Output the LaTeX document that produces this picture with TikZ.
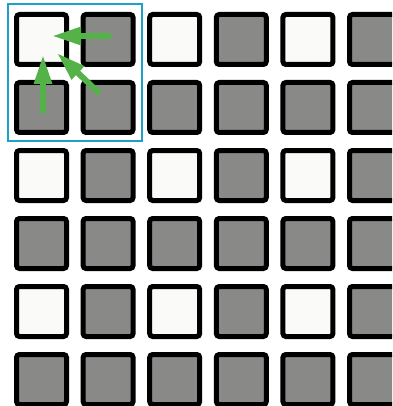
\documentclass[tikz,border=0pt]{standalone}
\usepackage{tikz}
\usetikzlibrary{arrows.meta,calc}
\usepackage{xcolor}
\definecolor{cellgray}{RGB}{137,137,135}
\definecolor{cellwhite}{RGB}{250,250,248}
\definecolor{arrowgreen}{RGB}{84,178,72}
\definecolor{framecyan}{RGB}{30,160,200}

\begin{document}
\begin{tikzpicture}[x=1pt,y=-1pt,line cap=round,
  cell/.style={draw=black,line width=5pt,rounded corners=3pt,minimum size=50pt,inner sep=0pt},
  pull/.style={arrowgreen,line width=6pt,-{Triangle[length=29pt,width=17pt]}}]
\useasboundingbox (0,0) rectangle (392,406);
\clip (0,0) rectangle (392,406);
\foreach \r in {1,...,6}{
  \foreach \c in {1,...,6}{
    \pgfmathparse{(mod(\r,2)==1 && mod(\c,2)==1) ? 1 : 0}
    \ifnum\pgfmathresult=1
      \node[cell,fill=cellwhite] (sq-\r-\c) at ({41.5+66.6*(\c-1)},{39.5+68*(\r-1)}) {};
    \else
      \node[cell,fill=cellgray] (sq-\r-\c) at ({41.5+66.6*(\c-1)},{39.5+68*(\r-1)}) {};
    \fi
  }
}
% pooling window
\draw[framecyan,line width=2pt] (8,4) rectangle (142,141);
% arrows into the top-left cell
\coordinate (tail-right) at (109,36);
\coordinate (head-right) at (52,36);
\coordinate (tail-down) at (43,111);
\coordinate (head-down) at (43,55);
\coordinate (tail-diag) at (98,92);
\coordinate (head-diag) at (57,53);
\draw[pull] (tail-right) -- (head-right);
\draw[pull] (tail-down) -- (head-down);
\draw[pull] (tail-diag) -- (head-diag);
\end{tikzpicture}
\end{document}
